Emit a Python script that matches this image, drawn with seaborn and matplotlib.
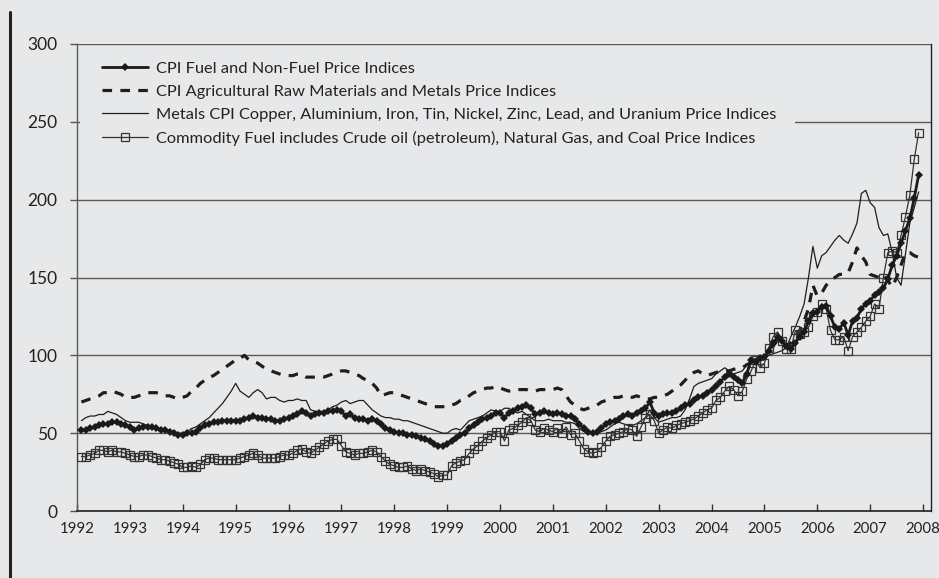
import numpy as np
import pandas as pd
import matplotlib.pyplot as plt
from matplotlib.lines import Line2D
import seaborn as sns

# monthly values, Feb 1992 .. Dec 2007
fuel_nonfuel = [
    52, 52, 53, 54, 55, 56, 56, 57, 57, 56, 55,            # 1992
    54, 52, 53, 54, 54, 54, 53, 52, 52, 51, 50, 49,        # 1993
    49, 50, 50, 51, 53, 55, 56, 57, 57, 58, 58, 58,        # 1994
    58, 58, 59, 60, 61, 60, 60, 59, 59, 58, 58, 59,        # 1995
    60, 61, 62, 64, 63, 61, 62, 63, 63, 64, 64, 65,        # 1996
    64, 61, 62, 60, 59, 59, 58, 59, 58, 56, 53, 52,        # 1997
    51, 50, 50, 49, 49, 48, 47, 46, 45, 43, 42, 42,        # 1998
    43, 45, 47, 49, 50, 53, 55, 57, 59, 60, 61, 63,        # 1999
    63, 60, 63, 64, 66, 67, 68, 66, 62, 63, 64, 63,        # 2000
    62, 63, 62, 61, 61, 59, 56, 53, 51, 50, 51, 53,        # 2001
    56, 57, 58, 59, 61, 62, 61, 63, 64, 66, 70, 63,        # 2002
    61, 62, 63, 63, 64, 66, 68, 69, 71, 73, 74, 76,        # 2003
    78, 80, 83, 86, 88, 86, 84, 82, 88, 97, 96, 98,        # 2004
    99, 103, 108, 112, 109, 106, 104, 108, 112, 115, 122, 127,   # 2005
    128, 131, 132, 125, 118, 117, 121, 113, 122, 124, 130, 133,  # 2006
    135, 139, 141, 143, 149, 158, 164, 172, 180, 188, 201, 216,  # 2007
]

agri_metals = [
    70, 71, 72, 73, 74, 76, 76, 77, 76, 75, 73,
    73, 73, 74, 75, 76, 76, 76, 75, 74, 74, 73, 72,
    73, 74, 77, 79, 82, 84, 86, 87, 89, 91, 93, 95,
    97, 98, 100, 97, 96, 95, 93, 91, 90, 89, 88, 87,
    87, 87, 88, 88, 86, 86, 86, 86, 86, 87, 88, 89,
    90, 90, 89, 88, 87, 85, 84, 82, 79, 74, 75, 76,
    76, 75, 74, 73, 72, 71, 70, 69, 68, 67, 67, 67,
    67, 68, 69, 71, 72, 74, 76, 77, 78, 79, 79, 80,
    79, 78, 77, 78, 78, 78, 78, 77, 77, 78, 78, 78,
    78, 79, 78, 74, 70, 68, 66, 65, 66, 67, 68, 70,
    71, 72, 73, 73, 74, 73, 73, 74, 73, 72, 72, 73,
    73, 74, 75, 77, 79, 81, 84, 87, 89, 90, 88, 87,
    88, 89, 90, 90, 90, 91, 92, 92, 94, 95, 96, 97,
    98, 102, 106, 110, 108, 106, 108, 112, 116, 122, 130, 145,
    138, 140, 145, 148, 150, 152, 152, 153, 160, 169, 164, 160,
    152, 151, 150, 152, 148, 144, 150, 158, 166, 166, 164, 163,
]

metals = [
    58, 60, 61, 61, 62, 62, 64, 63, 62, 60, 58,
    57, 57, 57, 56, 55, 54, 53, 53, 52, 52, 51, 50,
    50, 51, 53, 54, 56, 58, 60, 63, 66, 69, 73, 77,
    82, 77, 75, 73, 76, 78, 76, 72, 73, 73, 71, 70,
    71, 71, 72, 71, 71, 65, 64, 64, 64, 65, 67, 68,
    70, 71, 69, 70, 71, 71, 68, 65, 63, 61, 60, 60,
    59, 59, 58, 58, 57, 56, 55, 54, 53, 52, 51, 50,
    50, 52, 53, 52, 55, 58, 59, 60, 61, 63, 65, 64,
    64, 66, 66, 64, 63, 64, 62, 60, 58, 58, 58, 59,
    58, 58, 58, 57, 57, 56, 53, 51, 50, 49, 50, 51,
    52, 54, 56, 57, 56, 55, 55, 56, 58, 60, 65, 60,
    57, 58, 59, 60, 60, 61, 65, 72, 80, 82, 83, 84,
    85, 88, 90, 92, 90, 88, 89, 90, 94, 97, 98, 97,
    98, 100, 101, 102, 103, 105, 112, 118, 125, 133, 150, 170,
    156, 164, 166, 170, 174, 177, 174, 172, 178, 185, 204, 206,
    198, 195, 182, 177, 178, 166, 150, 145, 165, 185, 195, 205,
]

commodity_fuel = [
    35, 35, 36, 37, 39, 39, 38, 39, 38, 38, 37,
    36, 35, 35, 36, 36, 35, 34, 33, 33, 32, 31, 30,
    28, 28, 29, 28, 30, 33, 34, 34, 33, 33, 33, 33,
    33, 34, 35, 36, 37, 36, 34, 34, 34, 34, 35, 36,
    36, 37, 39, 40, 38, 37, 39, 41, 43, 45, 46, 46,
    42, 38, 37, 36, 37, 37, 38, 39, 38, 35, 32, 30,
    29, 28, 28, 29, 27, 26, 27, 26, 25, 24, 22, 23,
    23, 29, 31, 32, 33, 37, 40, 42, 45, 47, 49, 51,
    51, 45, 52, 53, 55, 57, 60, 58, 52, 51, 53, 52,
    51, 53, 50, 54, 49, 50, 45, 40, 38, 37, 38, 41,
    45, 48, 49, 50, 51, 53, 52, 48, 54, 60, 62, 58,
    50, 52, 54, 53, 55, 56, 57, 58, 59, 61, 63, 65,
    66, 71, 73, 77, 80, 78, 74, 77, 85, 90, 97, 92,
    95, 105, 112, 115, 109, 104, 104, 116, 114, 115, 118, 125,
    128, 133, 130, 116, 110, 110, 112, 103, 112, 115, 118, 122,
    125, 133, 130, 150, 166, 167, 166, 177, 189, 203, 226, 243,
]

labels = [
    "CPI Fuel and Non-Fuel Price Indices",
    "CPI Agricultural Raw Materials and Metals Price Indices",
    "Metals CPI Copper, Aluminium, Iron, Tin, Nickel, Zinc, Lead, and Uranium Price Indices",
    "Commodity Fuel includes Crude oil (petroleum), Natural Gas, and Coal Price Indices",
]
years = list(range(1992, 2009))
y_ticks = [0, 50, 100, 150, 200, 250, 300]

dates = pd.date_range("1992-02-01", periods=len(fuel_nonfuel), freq="MS")
df = pd.DataFrame({
    "t": dates.year + (dates.month - 1) / 12,
    "fuel_nonfuel": fuel_nonfuel,
    "agri_metals": agri_metals,
    "metals": metals,
    "commodity_fuel": commodity_fuel,
})

bg = "#e7e8ea"
sns.set_theme(style="white")
plt.rcParams["font.family"] = ["Lato", "DejaVu Sans"]

fig = plt.figure(figsize=(9.39, 5.78), dpi=100, facecolor=bg)
ax = fig.add_axes([77 / 939, 1 - 511 / 578, 854 / 939, 467 / 578])
ax.set_facecolor(bg)

sns.lineplot(data=df, x="t", y="agri_metals", ax=ax, color="#1e1e1e", lw=2.3,
             linestyle=(0, (3, 2.6)), label=labels[1], zorder=3)
sns.lineplot(data=df, x="t", y="metals", ax=ax, color="#1e1e1e", lw=0.9,
             label=labels[2], zorder=3)
sns.lineplot(data=df, x="t", y="commodity_fuel", ax=ax, color="#333333", lw=0.9,
             marker="s", markersize=5.2, markerfacecolor="none",
             markeredgecolor="#333333", markeredgewidth=0.9,
             label=labels[3], zorder=4)
sns.lineplot(data=df, x="t", y="fuel_nonfuel", ax=ax, color="#1a1a1a", lw=2.0,
             marker="D", markersize=4.2, markeredgewidth=0,
             label=labels[0], zorder=5)

ax.set_xlim(1992, 2008.15)
ax.set_ylim(0, 300)
ax.set_xticks(years)
ax.set_yticks(y_ticks)
ax.set_xlabel("")
ax.set_ylabel("")

ax.set_axisbelow(True)
ax.grid(axis="y", color="#5a5a5a", lw=1.0)
ax.grid(axis="x", visible=False)
# the legend box hides the 250 grid line behind it
ax.axhspan(244, 256, xmin=0.003, xmax=0.841, color=bg, zorder=1, lw=0)

ax.tick_params(axis="y", direction="out", length=5, width=1, color="#555555",
               labelsize=12.5, pad=9, labelcolor="#222222", left=True)
ax.tick_params(axis="x", direction="in", length=5, width=1, color="#333333",
               labelsize=10.8, pad=8, labelcolor="#222222", bottom=True)

ax.spines["top"].set_visible(False)
ax.spines["left"].set_color("#5a5a5a")
ax.spines["left"].set_linewidth(1.0)
ax.spines["bottom"].set_color("#222222")
ax.spines["bottom"].set_linewidth(1.2)
ax.spines["right"].set_color("#222222")
ax.spines["right"].set_linewidth(1.0)

handles, labs = ax.get_legend_handles_labels()
order = [labs.index(l) for l in labels]
ax.legend([handles[i] for i in order], [labs[i] for i in order],
          loc="upper left", bbox_to_anchor=(0.029, 0.962), frameon=False,
          borderpad=0, borderaxespad=0, fontsize=11.8, handlelength=2.8,
          handletextpad=0.5, labelspacing=0.52, labelcolor="#222222")

fig.add_artist(Line2D([10 / 939, 10 / 939], [0, 1 - 12 / 578],
                      transform=fig.transFigure, color="#222222", lw=2.2))

fig.savefig("out.png", dpi=100, facecolor=bg)
